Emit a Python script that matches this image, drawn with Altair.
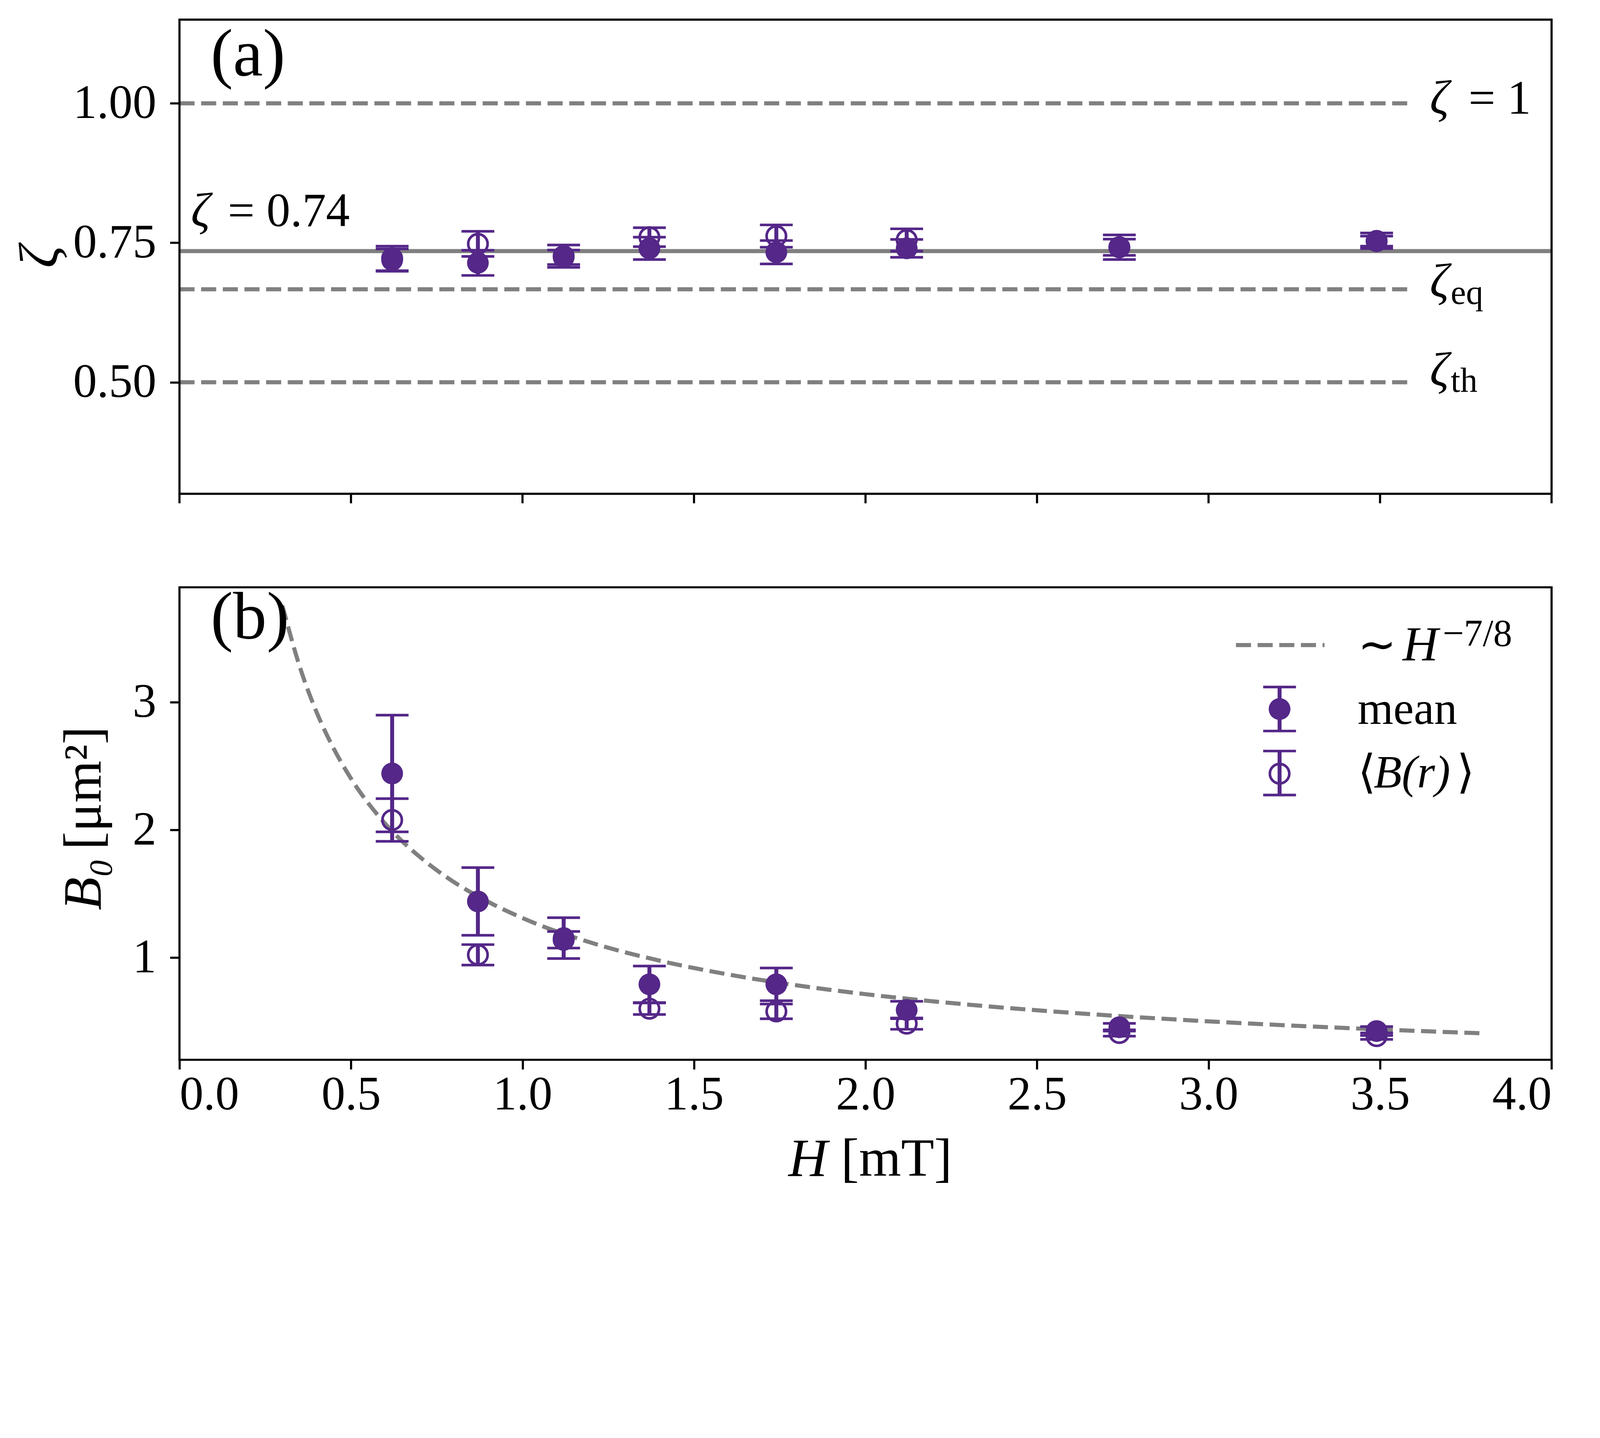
import altair as alt
import pandas as pd

# ---------------- data ----------------
H = [0.62, 0.87, 1.12, 1.37, 1.74, 2.12, 2.74, 3.49]

# panel (a): roughness exponent zeta
zeta_mean = [0.719, 0.714, 0.724, 0.740, 0.733, 0.740, 0.742, 0.7535]
zeta_mean_err = [0.020, 0.0225, 0.013, 0.020, 0.021, 0.016, 0.022, 0.014]
zeta_avg = [0.722, 0.748, 0.726, 0.760, 0.762, 0.755, 0.742, 0.753]
zeta_avg_err = [0.022, 0.0225, 0.020, 0.017, 0.020, 0.020, 0.0145, 0.009]

ref_dashed = [1.0, 0.6667, 0.5]      # zeta = 1, zeta_eq, zeta_th
ref_dashed_end = 3.59
ref_solid = 0.735                    # zeta = 0.74

# panel (b): B0
B_mean = [2.442, 1.440, 1.153, 0.791, 0.791, 0.590, 0.455, 0.425]
B_mean_err = [0.457, 0.265, 0.160, 0.143, 0.128, 0.068, 0.030, 0.035]
B_avg = [2.078, 1.022, 1.140, 0.600, 0.579, 0.483, 0.410, 0.385]
B_avg_err = [0.167, 0.080, 0.065, 0.045, 0.058, 0.044, 0.025, 0.025]

# ~ H^{-7/8} guide curve
fit_H = [0.30, 0.35, 0.40, 0.45, 0.50, 0.60, 0.70, 0.80, 0.90, 1.00,
         1.20, 1.40, 1.60, 1.80, 2.00, 2.30, 2.60, 3.00, 3.40, 3.80]
fit_B = [3.757, 3.283, 2.921, 2.635, 2.403, 2.048, 1.790, 1.592, 1.437, 1.310,
         1.117, 0.976, 0.868, 0.783, 0.714, 0.632, 0.568, 0.501, 0.449, 0.407]

x_ticks = [0.0, 0.5, 1.0, 1.5, 2.0, 2.5, 3.0, 3.5, 4.0]
ya_ticks = [0.50, 0.75, 1.00]
yb_ticks = [1, 2, 3]
xlim = [0.0, 4.0]
ya_lim = [0.3, 1.15]
yb_lim = [0.2, 3.9]

# ---------------- layout / style ----------------
# the page is photographed with ~1.19 device pixels per CSS pixel,
# so all sizes below are given in photo pixels and converted with K
K = 4100 / 4879


def px(v):
    return v * K


PURPLE = "#542788"
GRAY = "#808080"
FONT = "Liberation Serif"
W = px(4182)
HA, GAP, HB = px(1445), px(285), px(1440)
HT = HA + GAP + HB
TICK_FS = px(145)
LW = px(12.5)
DASH = [px(46), px(20)]
SPINE = px(6.5)
EB_W = px(12)
CAP_W = px(8)
CAP_L = px(100)
S_FILLED = 4400 * K * K
S_OPEN = 3500 * K * K
OPEN_SW = px(8)

ya_dom = [ya_lim[1] - (ya_lim[1] - ya_lim[0]) * HT / HA, ya_lim[1]]
yb_dom = [yb_lim[0], yb_lim[0] + (yb_lim[1] - yb_lim[0]) * HT / HB]

xs = alt.Scale(domain=xlim, nice=False, zero=False)
ysa = alt.Scale(domain=ya_dom, nice=False, zero=False)
ysb = alt.Scale(domain=yb_dom, nice=False, zero=False)

axis_common = dict(grid=False, tickSize=px(29), tickWidth=SPINE, tickColor="black",
                   domain=False, labelFont=FONT, labelFontSize=TICK_FS,
                   labelColor="black", labelLimit=2000, title=None)
xa = alt.Axis(values=x_ticks, format=".1f", labelPadding=px(8), orient="bottom", **axis_common)
ya_a = alt.Axis(values=ya_ticks, format=".2f", labelPadding=px(42), orient="left", **axis_common)
ya_b = alt.Axis(values=yb_ticks, format="d", labelPadding=px(42), orient="left", **axis_common)


def X(f):
    return alt.X(f, type="quantitative", scale=xs, axis=xa)


def data_layers(mean_col, mean_err, avg_col, avg_err, Y):
    d = pd.DataFrame({"H": H, "m": mean_col, "me": mean_err, "a": avg_col, "ae": avg_err})
    d["m_lo"] = d["m"] - d["me"]
    d["m_hi"] = d["m"] + d["me"]
    d["a_lo"] = d["a"] - d["ae"]
    d["a_hi"] = d["a"] + d["ae"]
    base = alt.Chart(d)
    layers = []
    for v, lo, hi in (("a", "a_lo", "a_hi"), ("m", "m_lo", "m_hi")):
        layers.append(base.mark_rule(color=PURPLE, strokeWidth=EB_W).encode(
            x=X("H"), y=Y(lo), y2=f"{hi}:Q"))
        for c in (lo, hi):
            layers.append(base.mark_tick(orient="horizontal", size=CAP_L, thickness=CAP_W,
                                         color=PURPLE, opacity=1).encode(x=X("H"), y=Y(c)))
        if v == "a":
            layers.append(base.mark_point(shape="circle", filled=False, size=S_OPEN,
                                          strokeWidth=OPEN_SW, color=PURPLE, opacity=1).encode(
                x=X("H"), y=Y("a")))
        else:
            layers.append(base.mark_circle(size=S_FILLED, color=PURPLE, opacity=1).encode(
                x=X("H"), y=Y("m")))
    return layers


def txt(s, x, y, size=145, style="normal", align="left", dy=0, angle=0, Y=None):
    """x, y: data values when Y is given, otherwise photo pixels inside the plot."""
    kw = dict(text=s, font=FONT, fontSize=px(size), fontStyle=style, align=align,
              baseline="alphabetic", dy=px(dy), color="black")
    if angle:
        kw["angle"] = angle
    if Y is not None:
        d = pd.DataFrame({"x": [x], "y": [y]})
        return alt.Chart(d).mark_text(**kw).encode(x=X("x"), y=Y("y"))
    d = pd.DataFrame({"k": [0]})
    return alt.Chart(d).mark_text(**kw).encode(x=alt.value(px(x)), y=alt.value(px(y)))


def rule_px(x, y, x2=None, y2=None, color=PURPLE, width=EB_W, dash=None):
    d = pd.DataFrame({"k": [0]})
    kw = dict(color=color, strokeWidth=width)
    if dash:
        kw["strokeDash"] = dash
    enc = dict(x=alt.value(px(x)), y=alt.value(px(y)))
    if x2 is not None:
        enc["x2"] = alt.value(px(x2))
    if y2 is not None:
        enc["y2"] = alt.value(px(y2))
    return alt.Chart(d).mark_rule(**kw).encode(**enc)


def frame(ylim, Y):
    d = pd.DataFrame({"x0": [xlim[0]], "x1": [xlim[1]], "y0": [ylim[0]], "y1": [ylim[1]]})
    return alt.Chart(d).mark_rect(fill=None, fillOpacity=0, stroke="black",
                                  strokeWidth=SPINE).encode(
        x=X("x0"), x2="x1:Q", y=Y("y0"), y2="y1:Q")


# ---------------- panel (a) ----------------
def YA(f):
    return alt.Y(f, type="quantitative", scale=ysa, axis=ya_a)


dref = pd.DataFrame({"y": ref_dashed, "x0": [xlim[0]] * 3, "x1": [ref_dashed_end] * 3})
dsol = pd.DataFrame({"y": [ref_solid], "x0": [xlim[0]], "x1": [xlim[1]]})
dtick_a = pd.DataFrame({"x": x_ticks, "y": [ya_lim[0]] * len(x_ticks)})
a_layers = [
    alt.Chart(dref).mark_rule(color=GRAY, strokeWidth=LW, strokeDash=DASH).encode(
        x=X("x0"), x2="x1:Q", y=YA("y")),
    alt.Chart(dsol).mark_rule(color=GRAY, strokeWidth=LW).encode(
        x=X("x0"), x2="x1:Q", y=YA("y")),
]
a_layers += data_layers(zeta_mean, zeta_mean_err, zeta_avg, zeta_avg_err, YA)
a_layers += [
    frame(ya_lim, YA),
    # x ticks under panel (a) (no labels)
    alt.Chart(dtick_a).mark_tick(orient="vertical", size=px(29), thickness=SPINE,
                                 color="black", opacity=1, yOffset=px(14.5)).encode(
        x=X("x"), y=YA("y")),
    txt("(a)", 95, 170, size=205),
    txt("ζ", 3.645, 1.0, style="italic", dy=32, Y=YA),
    txt("= 1", 3.758, 1.0, dy=32, Y=YA),
    txt("ζ", 3.645, 0.6667, style="italic", dy=23, Y=YA),
    txt("eq", 3.706, 0.6667, size=105, dy=45, Y=YA),
    txt("ζ", 3.645, 0.5, style="italic", dy=10, Y=YA),
    txt("th", 3.706, 0.5, size=105, dy=29, Y=YA),
    txt("ζ", 0.0335, 0.78, style="italic", Y=YA),
    txt("= 0.74", 0.141, 0.78, Y=YA),
    # y title of panel (a)
    txt("ζ", -372, 1445 / 2, size=170, style="italic", align="center", angle=270),
]
layer_a = alt.layer(*a_layers)


# ---------------- panel (b) ----------------
def YB(f):
    return alt.Y(f, type="quantitative", scale=ysb, axis=ya_b)


T = 1445 + 285  # top of panel (b) in photo pixels
dfit = pd.DataFrame({"H": fit_H, "B": fit_B})
b_layers = [
    alt.Chart(dfit).mark_line(color=GRAY, strokeWidth=LW, strokeDash=DASH,
                              interpolate="monotone").encode(x=X("H"), y=YB("B")),
]
b_layers += data_layers(B_mean, B_mean_err, B_avg, B_avg_err, YB)

LX = 3353
one = pd.DataFrame({"k": [0]})
b_layers += [
    frame(yb_lim, YB),
    txt("(b)", 95, T + 155, size=205),
    # legend: dashed guide
    rule_px(3220, T + 176, x2=3490, color=GRAY, width=LW, dash=DASH),
    txt("∼", 3591, T + 222, size=140),
    txt("H", 3728, T + 222, size=150, style="italic"),
    txt("−7/8", 3850, T + 178, size=115),
    # legend: mean
    rule_px(LX, T + 304, y2=T + 438),
    rule_px(LX - 50, T + 304, x2=LX + 50, width=CAP_W),
    rule_px(LX - 50, T + 438, x2=LX + 50, width=CAP_W),
    alt.Chart(one).mark_circle(size=S_FILLED, color=PURPLE, opacity=1).encode(
        x=alt.value(px(LX)), y=alt.value(px(T + 371))),
    txt("mean", 3591, T + 416, size=140),
    # legend: <B(r)>
    rule_px(LX, T + 499, y2=T + 633),
    rule_px(LX - 50, T + 499, x2=LX + 50, width=CAP_W),
    rule_px(LX - 50, T + 633, x2=LX + 50, width=CAP_W),
    alt.Chart(one).mark_point(shape="circle", filled=False, size=S_OPEN, strokeWidth=OPEN_SW,
                              color=PURPLE, opacity=1).encode(
        x=alt.value(px(LX)), y=alt.value(px(T + 568))),
    txt("⟨", 3591, T + 610, size=140),
    txt("B(r)", 3640, T + 610, size=140, style="italic"),
    txt("⟩", 3893, T + 610, size=140),
    # axis titles
    txt("H", 1975, T + 1794, size=165, style="italic", align="right"),
    txt("[mT]", 2016, T + 1794, size=165),
    txt("B₀", -240, T + 826, size=165, style="italic", align="right", angle=270),
    txt("[μm²]", -240, T + 800, size=165, align="left", angle=270),
]
layer_b = alt.layer(*b_layers)

SVG_W = 4100 - 16
SVG_H = 3681 * K - 16
PAD_L = px(547) - 8
PAD_T = px(59) - 8
chart = alt.layer(layer_a, layer_b).resolve_scale(y="independent").properties(
    width=W, height=HT,
    autosize=alt.AutoSizeParams(type="none"),
    padding={"left": PAD_L, "top": PAD_T,
             "right": SVG_W - PAD_L - W - 2, "bottom": SVG_H - PAD_T - HT - 2},
    background="white",
).configure_view(stroke=None)

chart.save("out.html", embed_options={"renderer": "svg", "actions": False})
